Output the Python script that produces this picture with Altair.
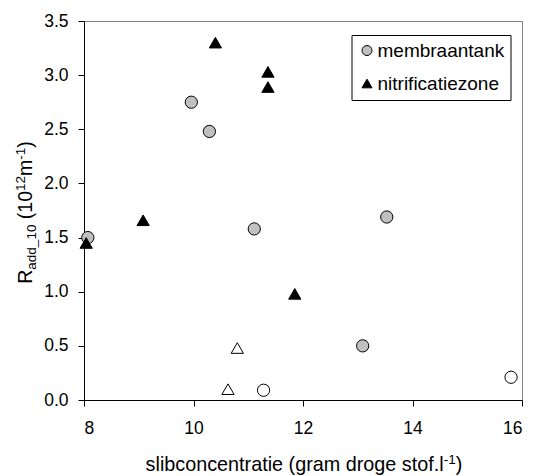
import altair as alt
import pandas as pd

# ---- data ----
mem_x = [8.07, 9.96, 10.29, 11.11, 13.53, 13.09]
mem_y = [1.50, 2.75, 2.48, 1.58, 1.69, 0.50]
mem_open_x = [11.28, 15.80]
mem_open_y = [0.09, 0.21]
nit_x = [10.40, 11.36, 11.36, 9.08, 8.04, 11.85]
nit_y = [3.30, 3.03, 2.89, 1.66, 1.45, 0.98]
nit_open_x = [10.80, 10.63]
nit_open_y = [0.48, 0.10]

series = ["membraantank", "membraantank (open)", "nitrificatiezone", "nitrificatiezone (open)"]
legend_series = ["membraantank", "nitrificatiezone"]
shapes = ["circle", "circle", "triangle-up", "triangle-up"]
fills = ["#c0c0c0", "white", "black", "white"]
strokes = ["black", "black", "black", "black"]
x_ticks = [8, 10, 12, 14, 16]
y_ticks = [0.0, 0.5, 1.0, 1.5, 2.0, 2.5, 3.0, 3.5]

rows = []
for xs_, ys_, s in [(mem_x, mem_y, series[0]), (mem_open_x, mem_open_y, series[1]),
                    (nit_x, nit_y, series[2]), (nit_open_x, nit_open_y, series[3])]:
    for a, b in zip(xs_, ys_):
        rows.append({"x": a, "y": b, "series": s})
df = pd.DataFrame(rows)

W_PLOT, H_PLOT = 438, 379
FONT = "Liberation Sans"

leg = alt.Legend(title=None, values=legend_series, orient="none", legendX=267.5, legendY=14,
                 labelFontSize=19, labelFont=FONT, labelColor="black", symbolSize=100,
                 symbolStrokeColor="black", symbolStrokeWidth=1, symbolOpacity=1,
                 strokeColor="black", fillColor="white", padding=6, rowPadding=13,
                 labelOffset=1)

xs = alt.Scale(domain=[8, 16], nice=False, zero=False)
ys = alt.Scale(domain=[0, 3.5], nice=False, zero=False)

points = alt.Chart(df).mark_point(filled=True, size=150, strokeWidth=1, opacity=1).encode(
    x=alt.X("x:Q", scale=xs, axis=alt.Axis(values=x_ticks, title=None, format="d", labelPadding=13)),
    y=alt.Y("y:Q", scale=ys, axis=alt.Axis(values=y_ticks, title=None, format=".1f", labelPadding=10)),
    shape=alt.Shape("series:N", scale=alt.Scale(domain=series, range=shapes), legend=leg),
    fill=alt.Fill("series:N", scale=alt.Scale(domain=series, range=fills), legend=leg),
    stroke=alt.Stroke("series:N", scale=alt.Scale(domain=series, range=strokes), legend=leg),
)

# ---- titles with sub/superscripts ----
AW = {'s': .5, 'l': .222, 'i': .222, 'b': .556, 'c': .5, 'o': .556, 'n': .556, 'e': .556,
      't': .278, 'r': .333, 'a': .556, ' ': .278, '(': .333, ')': .333, 'g': .556, 'm': .833,
      'd': .556, 'f': .278, '.': .278, '-': .333, '1': .556, '0': .556, '2': .556, 'R': .722,
      '_': .556}


def tw(s, fs):
    return sum(AW[c] for c in s) * fs


layers = [points]

# x title
XB, XS = 19.8, 13.5
x_pieces = [("slibconcentratie (gram droge stof.l", XB, 0), ("-1", XS, -7), (")", XB, 0)]
total = sum(tw(t, f) for t, f, _ in x_pieces)
cx, base_y = 220.0, 450
pos = cx - total / 2
for t, f, sh in x_pieces:
    layers.append(alt.Chart(pd.DataFrame({"t": [t]})).mark_text(
        align="left", baseline="alphabetic", font=FONT, fontSize=f, color="black").encode(
        x=alt.value(pos), y=alt.value(base_y + sh), text="t:N"))
    pos += tw(t, f)

# y title (rotated); " " entries are gaps only
BIG, SMALL = 19.5, 13.5
y_pieces = [("R", BIG, 0), ("add_10", SMALL, 4), (" ", BIG, None), ("(10", BIG, 0), ("12", SMALL, -7),
            ("m", BIG, 0), ("-1", SMALL, -7), (")", BIG, 0)]
total = sum(tw(t, f) for t, f, _ in y_pieces)
cy, base_x = 212.5 - 21, -52.5
pos = cy + total / 2
for t, f, sh in y_pieces:
    if sh is not None:
        layers.append(alt.Chart(pd.DataFrame({"t": [t]})).mark_text(
            align="left", baseline="alphabetic", font=FONT, fontSize=f, color="black", angle=270).encode(
            x=alt.value(base_x + sh), y=alt.value(pos), text="t:N"))
    pos -= tw(t, f)

chart = alt.layer(*layers).properties(
    width=W_PLOT, height=H_PLOT, background="white",
    autosize=alt.AutoSizeParams(type="none"),
    padding={"left": 84, "top": 21, "right": 13, "bottom": 76},
).configure_view(stroke="#808080", strokeWidth=1).configure_axis(
    grid=False, domainColor="black", tickColor="black", tickSize=6,
    labelFont=FONT, labelFontSize=17.5, labelColor="black",
)

chart.save("out.html", embed_options={"renderer": "svg", "actions": False})
